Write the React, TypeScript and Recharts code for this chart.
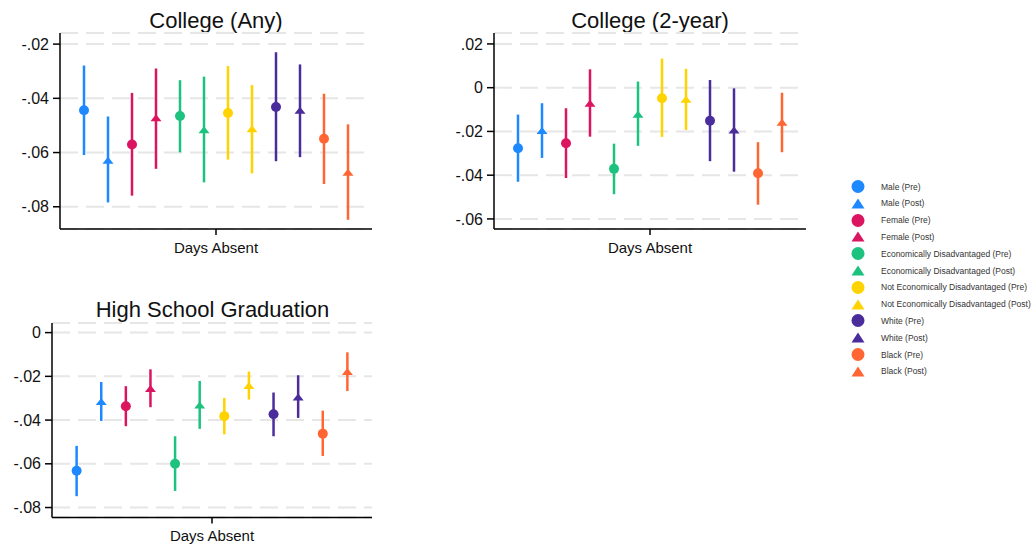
import React from "react";
import { ScatterChart, Scatter, XAxis, YAxis, CartesianGrid, ErrorBar } from "recharts";

const groups = [
  "Male (Pre)", "Male (Post)", "Female (Pre)", "Female (Post)",
  "Economically Disadvantaged (Pre)", "Economically Disadvantaged (Post)",
  "Not Economically Disadvantaged (Pre)", "Not Economically Disadvantaged (Post)",
  "White (Pre)", "White (Post)", "Black (Pre)", "Black (Post)",
];
const xLabel = "Days Absent";

// College (Any)
const anyEst = [-0.0444, -0.0628, -0.057, -0.0472, -0.0465, -0.0516, -0.0454, -0.0512, -0.0432, -0.0444, -0.0549, -0.0673];
const anyLow = [-0.0609, -0.0784, -0.0759, -0.066, -0.0599, -0.071, -0.0626, -0.0677, -0.0632, -0.0617, -0.0716, -0.0848];
const anyHigh = [-0.0279, -0.0467, -0.038, -0.029, -0.0333, -0.032, -0.0281, -0.0351, -0.023, -0.0275, -0.0383, -0.0496];
const anyTicks = [-0.08, -0.06, -0.04, -0.02];

// College (2-year)
const twoEst = [-0.0277, -0.0196, -0.0254, -0.0071, -0.0371, -0.0121, -0.0048, -0.0053, -0.0151, -0.0193, -0.0391, -0.0158];
const twoLow = [-0.043, -0.0321, -0.0413, -0.0224, -0.0487, -0.0266, -0.0225, -0.0193, -0.0336, -0.0384, -0.0535, -0.0295];
const twoHigh = [-0.0123, -0.0071, -0.0094, 0.0084, -0.0256, 0.0028, 0.0133, 0.0086, 0.0035, -0.0003, -0.0249, -0.0023];
const twoTicks = [-0.06, -0.04, -0.02, 0, 0.02];

// High School Graduation
const hsEst = [-0.0632, -0.0315, -0.0337, -0.0256, -0.06, -0.0331, -0.0382, -0.0242, -0.0373, -0.0294, -0.0462, -0.0178];
const hsLow = [-0.0748, -0.0404, -0.0428, -0.0341, -0.0724, -0.044, -0.0465, -0.0306, -0.0474, -0.039, -0.0564, -0.0267];
const hsHigh = [-0.0518, -0.0226, -0.0245, -0.0168, -0.0474, -0.0221, -0.0299, -0.0178, -0.0274, -0.0195, -0.0357, -0.009];
const hsTicks = [-0.08, -0.06, -0.04, -0.02, 0];

const palette = ["#1E88FF", "#DC1560", "#1DC27F", "#FFD300", "#4B2C9B", "#FF6633"];
const FONT = "'Liberation Sans', Arial, sans-serif";

const fmt = (v: number) => {
  if (Math.abs(v) < 1e-9) return "0";
  return (v < 0 ? "-" : "") + Math.abs(v).toFixed(2).replace(/^0/, "");
};

const Marker = (props: any) => {
  const { cx, cy, fill, tri } = props;
  if (cx == null || cy == null) return null;
  if (tri) {
    return <polygon points={`${cx - 5.5},${cy + 3.5} ${cx + 5.5},${cy + 3.5} ${cx},${cy - 3.5}`} fill={fill} />;
  }
  return <circle cx={cx} cy={cy} r={5} fill={fill} />;
};

type PanelProps = {
  title: string; est: number[]; low: number[]; high: number[]; ticks: number[];
  domain: [number, number]; left: number; top: number; width: number; height: number;
  yw: number; mr: number; titleX: number; titleY: number;
};

const Panel = (p: PanelProps) => {
  return (
    <>
      <div style={{ position: "absolute", left: p.titleX - 200, top: p.titleY - 14, width: 400, textAlign: "center", fontFamily: FONT, fontSize: 22, lineHeight: "28px", color: "#111" }}>
        {p.title}
      </div>
      <div style={{ position: "absolute", left: p.left, top: p.top }}>
        <ScatterChart width={p.width} height={p.height} margin={{ top: 33, right: p.mr, bottom: 5, left: 0 }}>
          <CartesianGrid horizontal vertical={false} stroke="#e6e6e6" strokeWidth={2} strokeDasharray="18 8" />
          <XAxis type="number" dataKey="x" domain={[0, 13]} ticks={[6.5]} tickFormatter={() => xLabel}
            height={36} tickSize={6} tickMargin={7} allowDataOverflow
            axisLine={{ stroke: "#000", strokeWidth: 1.5 }} tickLine={{ stroke: "#000", strokeWidth: 1.5 }}
            tick={{ fill: "#111", fontSize: 15, fontFamily: FONT }} />
          <YAxis type="number" dataKey="y" domain={p.domain} ticks={p.ticks} tickFormatter={fmt} width={p.yw}
            allowDataOverflow tickSize={7} tickMargin={4}
            axisLine={{ stroke: "#000", strokeWidth: 1.5 }} tickLine={{ stroke: "#000", strokeWidth: 1.5 }}
            tick={{ fill: "#111", fontSize: 16, fontFamily: FONT }} />
          {groups.map((g, i) => {
            const color = palette[Math.floor(i / 2)];
            const data = [{ x: i + 1, y: p.est[i], err: [p.est[i] - p.low[i], p.high[i] - p.est[i]] }];
            return (
              <Scatter key={g} name={g} data={data} fill={color} isAnimationActive={false}
                shape={(sp: any) => <Marker {...sp} fill={color} tri={i % 2 === 1} />}>
                <ErrorBar dataKey="err" direction="y" width={0} stroke={color} strokeWidth={2.5} isAnimationActive={false} />
              </Scatter>
            );
          })}
        </ScatterChart>
      </div>
    </>
  );
};

const Legend = () => (
  <div style={{ position: "absolute", left: 848, top: 178 }}>
    {groups.map((g, i) => {
      const color = palette[Math.floor(i / 2)];
      const tri = i % 2 === 1;
      return (
        <div key={g} style={{ position: "absolute", left: 0, top: i * 16.8, height: 17, width: 190, display: "flex", alignItems: "center" }}>
          <svg width={20} height={17} style={{ display: "block" }}>
            {tri ? (
              <polygon points="3.5,13.5 16.5,13.5 10,3.5" fill={color} />
            ) : (
              <circle cx={10} cy={8.5} r={6.5} fill={color} />
            )}
          </svg>
          <span style={{ marginLeft: 13, fontFamily: FONT, fontSize: 8.5, color: "#333", whiteSpace: "nowrap" }}>{g}</span>
        </div>
      );
    })}
  </div>
);

export default function App() {
  return (
    <div style={{ position: "absolute", left: 0, top: 0, width: 1031, height: 547, background: "#fff", overflow: "hidden" }}>
      <Panel title="College (Any)" est={anyEst} low={anyLow} high={anyHigh} ticks={anyTicks}
        domain={[-0.0882, -0.0159]} left={0} top={0} width={390} height={270} yw={60} mr={18} titleX={216} titleY={21} />
      <Panel title="College (2-year)" est={twoEst} low={twoLow} high={twoHigh} ticks={twoTicks}
        domain={[-0.0646, 0.025]} left={434} top={0} width={390} height={270} yw={60} mr={18} titleX={650} titleY={21} />
      <Panel title="High School Graduation" est={hsEst} low={hsLow} high={hsHigh} ticks={hsTicks}
        domain={[-0.0846, 0.0044]} left={0} top={289.7} width={390} height={268.6} yw={52} mr={18} titleX={212.5} titleY={309.5} />
      <Legend />
    </div>
  );
}
